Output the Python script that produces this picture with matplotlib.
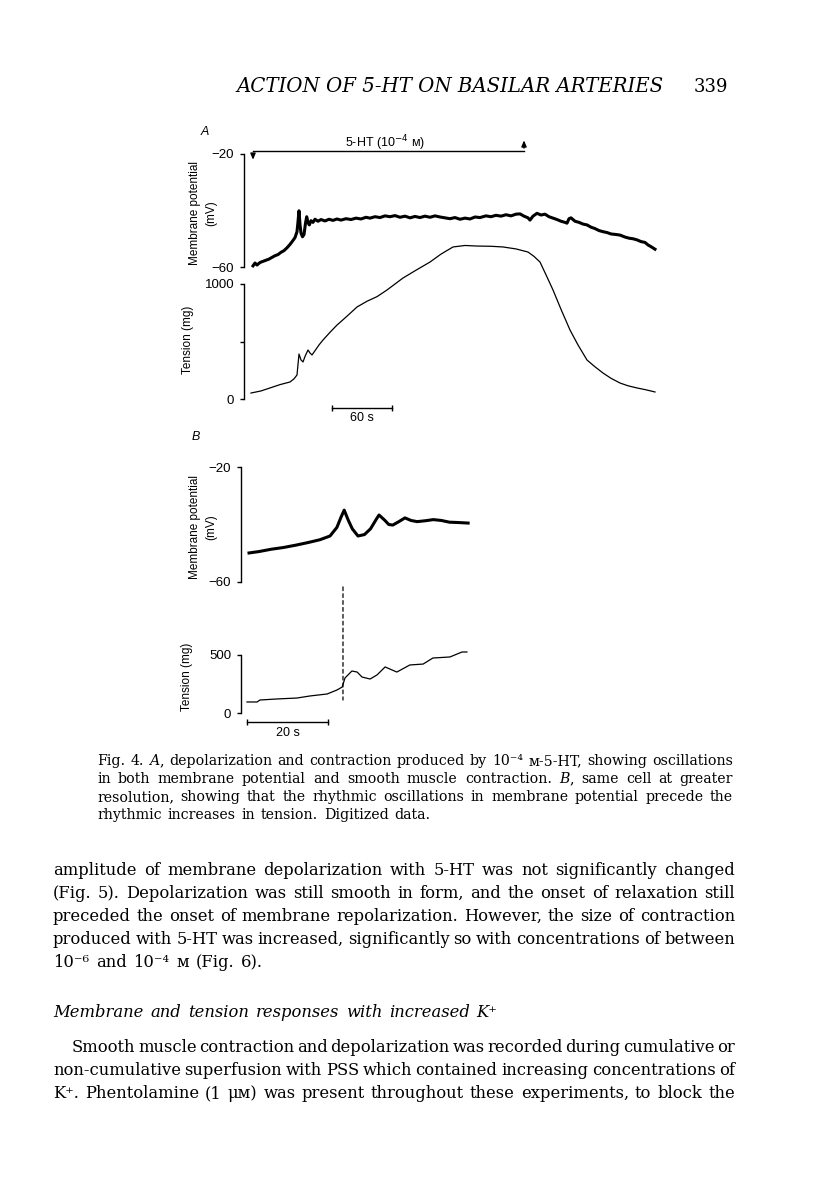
import matplotlib
matplotlib.use("Agg")
import matplotlib.pyplot as plt
from matplotlib.patches import ConnectionPatch

W, H = 816, 1200

# ---- panel A: membrane potential (t in s, mV)
mem_a_t = [2, 4, 6, 9, 12, 15, 18, 21, 24, 27, 30, 33, 36, 39, 42, 44, 46, 47, 48, 49,
           50, 51.5, 53, 54.5, 55.7, 57, 58.3, 60, 62, 64, 67, 70, 74, 78, 82, 86, 90, 95,
           100, 105, 110, 115, 119, 124, 129, 134, 139, 144, 149, 154, 159, 164, 169, 174,
           179, 184, 189, 194, 199, 204, 209, 214, 219, 224, 229, 235, 240, 245, 250, 255,
           260, 265, 269, 273, 277, 279, 282, 286, 290, 294, 298, 302, 306, 310, 314, 316,
           318, 320, 324, 328, 332, 336, 340, 344, 348, 352, 356, 360, 365, 369, 374, 378,
           382, 386, 390, 394, 397, 400, 404]
mem_a_v = [-59.6, -58.6, -59.3, -58.4, -58.0, -57.6, -57.2, -56.6, -56.0, -55.6, -54.8,
           -54.2, -53.2, -52.0, -50.6, -49.6, -47.5, -44.0, -40.1, -45.0, -48.0, -49.3,
           -48.5, -44.5, -42.2, -44.3, -45.1, -43.6, -44.2, -43.1, -43.8, -43.2, -43.7,
           -43.1, -43.5, -43.0, -43.4, -42.9, -43.2, -42.7, -43.0, -42.4, -42.7, -42.2,
           -42.5, -41.9, -42.2, -41.8, -42.4, -42.0, -42.6, -42.1, -42.5, -42.0, -42.4,
           -41.9, -42.3, -42.6, -42.9, -42.5, -43.1, -42.7, -43.0, -42.3, -42.5, -41.9,
           -42.2, -41.7, -42.0, -41.5, -41.9, -41.3, -41.2, -42.0, -42.6, -43.4, -42.0,
           -41.0, -41.6, -41.3, -42.2, -42.7, -43.2, -43.8, -44.2, -44.5, -42.9, -42.6,
           -43.8, -44.2, -44.8, -45.1, -45.9, -46.4, -47.1, -47.5, -47.8, -48.3, -48.5,
           -48.7, -49.4, -49.8, -50.0, -50.4, -51.0, -51.3, -52.2, -52.8, -53.7]

# ---- panel A: tension (t in s, mg)
ten_a_t = [0, 10, 19, 29, 39, 43, 46, 47, 48, 50, 52, 54, 57, 59, 61, 64, 68, 72, 79, 86,
           96, 106, 116, 126, 136, 144, 152, 165, 179, 190, 202, 214, 226, 240, 252, 265,
           277, 283, 289, 295, 302, 310, 319, 327, 336, 344, 352, 360, 369, 377, 386, 395, 404]
ten_a_v = [52, 70, 96, 125, 148, 175, 209, 300, 391, 340, 322, 370, 426, 400, 383, 420,
           470, 513, 580, 643, 720, 800, 850, 890, 948, 1000, 1052, 1120, 1191, 1260, 1322,
           1335, 1330, 1328, 1322, 1305, 1278, 1240, 1191, 1080, 948, 780, 600, 470, 339,
           280, 226, 180, 139, 115, 96, 80, 61]

# ---- panel B: membrane potential (t in s, mV)
mem_b_t = [0.5, 3, 6, 9, 12, 15, 18, 20.5, 22.2, 23.2, 24, 25, 26, 27.4, 29, 30.5, 32,
           32.6, 34, 35, 36, 37.5, 39, 40.5, 42, 44, 46, 48, 50, 52, 54.6]
mem_b_v = [-49.9, -49.4, -48.6, -48.0, -47.2, -46.3, -45.3, -44.0, -41.0, -37.5, -35.0,
           -38.5, -41.5, -44.0, -43.5, -41.5, -38.0, -36.7, -38.5, -40.0, -40.2, -39.0,
           -37.7, -38.6, -39.0, -38.7, -38.3, -38.6, -39.2, -39.3, -39.5]

# ---- panel B: tension (t in s, mg)
ten_b_t = [0, 2.5, 3.2, 7.4, 12.3, 15.6, 19.8, 22.2, 23.5, 24.2, 25.9, 27.2, 28.4, 30.4,
           32.1, 34.1, 37, 40.2, 43.5, 45.9, 50.1, 53.1, 54.3]
ten_b_v = [95, 95, 112, 121, 129, 147, 164, 198, 224, 302, 362, 353, 310, 293, 328, 397,
           353, 414, 422, 474, 483, 526, 526]

SANS = "Liberation Sans"
SERIF = "DejaVu Serif"

fig = plt.figure(figsize=(W / 100, H / 100), dpi=100)


def fx(x):
    return x / W


def fy(y):
    return 1 - y / H


def make_axes(x0, x1, ytop, ybot):
    ax = fig.add_axes([fx(x0), fy(ybot), (x1 - x0) / W, (ybot - ytop) / H])
    ax.patch.set_visible(False)
    for s in ("top", "right", "bottom"):
        ax.spines[s].set_visible(False)
    ax.spines["left"].set_linewidth(1.0)
    ax.set_xticks([])
    ax.tick_params(axis="y", direction="out", length=3, width=1.0, pad=4,
                   labelsize=9.5)
    return ax


# panel A membrane
axm = make_axes(244, 660, 154, 267)
axm.set_xlim(-7, 409)
axm.set_ylim(-60, -20)
axm.set_yticks([-60, -20])
axm.set_yticklabels(["\u221260", "\u221220"], fontfamily=SANS)
axm.plot(mem_a_t, mem_a_v, color="black", lw=2.2, clip_on=False)

# 5-HT application bar
axm.plot([2, 273], [-18.9, -18.9], color="black", lw=1.0, clip_on=False)
axm.annotate("", xy=(2, -23.0), xytext=(2, -18.9),
             arrowprops=dict(arrowstyle="-|>,head_length=0.35,head_width=0.15",
                             color="black", lw=1.0), annotation_clip=False)
axm.annotate("", xy=(273, -14.2), xytext=(273, -18.9),
             arrowprops=dict(arrowstyle="-|>,head_length=0.35,head_width=0.15",
                             color="black", lw=1.0), annotation_clip=False)
axm.text(134, -16.3, r"5-HT (10$^{-4}$ м)", ha="center", va="center",
         fontsize=9, fontfamily=SANS)

# panel A tension
axt = make_axes(244, 660, 284, 399)
axt.set_xlim(-7, 409)
axt.set_ylim(0, 1000)
axt.set_yticks([0, 500, 1000])
axt.set_yticklabels(["0", "", "1000"], fontfamily=SANS)
axt.plot(ten_a_t, ten_a_v, color="black", lw=0.9, clip_on=False)
axt.plot([81, 141], [-78, -78], color="black", lw=1.0, clip_on=False,
         marker="|", markersize=4, markevery=[0, 1])
axt.text(111, -165, "60 s", ha="center", va="center", fontsize=9, fontfamily=SANS)

# panel B membrane
bx0, bx1 = 241, 475
bt0, bt1 = (bx0 - 247) / 4.05, (bx1 - 247) / 4.05
bxm = make_axes(bx0, bx1, 467, 582)
bxm.set_xlim(bt0, bt1)
bxm.set_ylim(-60, -20)
bxm.set_yticks([-60, -20])
bxm.set_yticklabels(["\u221260", "\u221220"], fontfamily=SANS)
bxm.plot(mem_b_t, mem_b_v, color="black", lw=2.2, clip_on=False)

# panel B tension
bxt = make_axes(bx0, bx1, 655, 713)
bxt.set_xlim(bt0, bt1)
bxt.set_ylim(0, 500)
bxt.set_yticks([0, 500])
bxt.set_yticklabels(["0", "500"], fontfamily=SANS)
bxt.plot(ten_b_t, ten_b_v, color="black", lw=0.9, clip_on=False)
bxt.plot([0, 20], [-78, -78], color="black", lw=1.0, clip_on=False,
         marker="|", markersize=4, markevery=[0, 1])
bxt.text(10, -170, "20 s", ha="center", va="center", fontsize=9, fontfamily=SANS)

# dashed line linking the first oscillation in B
con = ConnectionPatch(xyA=(23.7, -61.7), coordsA=bxm.transData,
                      xyB=(23.7, 112), coordsB=bxt.transData,
                      color="black", lw=0.9, linestyle=(0, (3, 2.5)))
fig.add_artist(con)

# panel letters and axis labels
fig.text(fx(205), fy(132), "A", fontsize=9, fontstyle="italic", fontfamily=SANS,
         ha="center", va="center")
fig.text(fx(196), fy(437), "B", fontsize=9, fontstyle="italic", fontfamily=SANS,
         ha="center", va="center")
for yc in (213, 527):
    fig.text(fx(203), fy(yc), "Membrane potential\n(mV)", rotation=90, fontsize=8.5,
             fontfamily=SANS, ha="center", va="center", multialignment="center",
             linespacing=1.4)
fig.text(fx(188), fy(340), "Tension (mg)", rotation=90, fontsize=8.5,
         fontfamily=SANS, ha="center", va="center")
fig.text(fx(187), fy(677), "Tension (mg)", rotation=90, fontsize=8.5,
         fontfamily=SANS, ha="center", va="center")

# ---- page text
fig.text(fx(450), fy(87), "ACTION OF 5-HT ON BASILAR ARTERIES", fontsize=14.2,
         fontstyle="italic", fontfamily=SERIF, ha="center", va="center")
fig.text(fx(711), fy(87), "339", fontsize=13, fontfamily=SERIF, ha="center",
         va="center")

renderer = fig.canvas.get_renderer()


def text_width(s, size, style):
    t = fig.text(0, 0, s, fontsize=size, fontstyle=style, fontfamily=SERIF)
    w = t.get_window_extent(renderer).width
    t.remove()
    return w


def put_line(line, x0, x1, y, size, justify=True, style="normal"):
    words = []
    for w in line.split(" "):
        segs = []
        for k, p in enumerate(w.split("_")):
            if p:
                segs.append((p, "italic" if (k % 2 or style == "italic") else "normal"))
        words.append(segs)
    widths = [[text_width(p, size, st) for p, st in segs] for segs in words]
    total = sum(sum(ws) for ws in widths)
    space = text_width("a a", size, style) - text_width("aa", size, style)
    if justify and len(words) > 1:
        gap = (x1 - x0 - total) / (len(words) - 1)
    else:
        gap = space * 1.3
    x = x0
    for segs, ws in zip(words, widths):
        for (p, st), wd in zip(segs, ws):
            fig.text(fx(x), fy(y), p, fontsize=size, fontstyle=st, fontfamily=SERIF,
                     ha="left", va="baseline")
            x += wd
        x += gap


caption = [
    "Fig. 4. _A_, depolarization and contraction produced by 10⁻⁴ м-5-HT, showing oscillations",
    "in both membrane potential and smooth muscle contraction. _B_, same cell at greater",
    "resolution, showing that the rhythmic oscillations in membrane potential precede the",
    "rhythmic increases in tension. Digitized data.",
]
for i, ln in enumerate(caption):
    put_line(ln, 97, 733, 765 + 18 * i, 10.2, justify=(i < len(caption) - 1))

para1 = [
    "amplitude of membrane depolarization with 5-HT was not significantly changed",
    "(Fig. 5). Depolarization was still smooth in form, and the onset of relaxation still",
    "preceded the onset of membrane repolarization. However, the size of contraction",
    "produced with 5-HT was increased, significantly so with concentrations of between",
    "10⁻⁶ and 10⁻⁴ м (Fig. 6).",
]
for i, ln in enumerate(para1):
    put_line(ln, 53, 735, 875 + 23 * i, 11.8, justify=(i < len(para1) - 1))

put_line("Membrane and tension responses with increased K⁺", 53, 735, 1017, 11.8,
         justify=False, style="italic")

para2 = [
    "Smooth muscle contraction and depolarization was recorded during cumulative or",
    "non-cumulative superfusion with PSS which contained increasing concentrations of",
    "K⁺. Phentolamine (1 μм) was present throughout these experiments, to block the",
]
for i, ln in enumerate(para2):
    put_line(ln, 72 if i == 0 else 53, 735, 1052 + 23 * i, 11.8, justify=True)

fig.savefig("out.png", dpi=100)
